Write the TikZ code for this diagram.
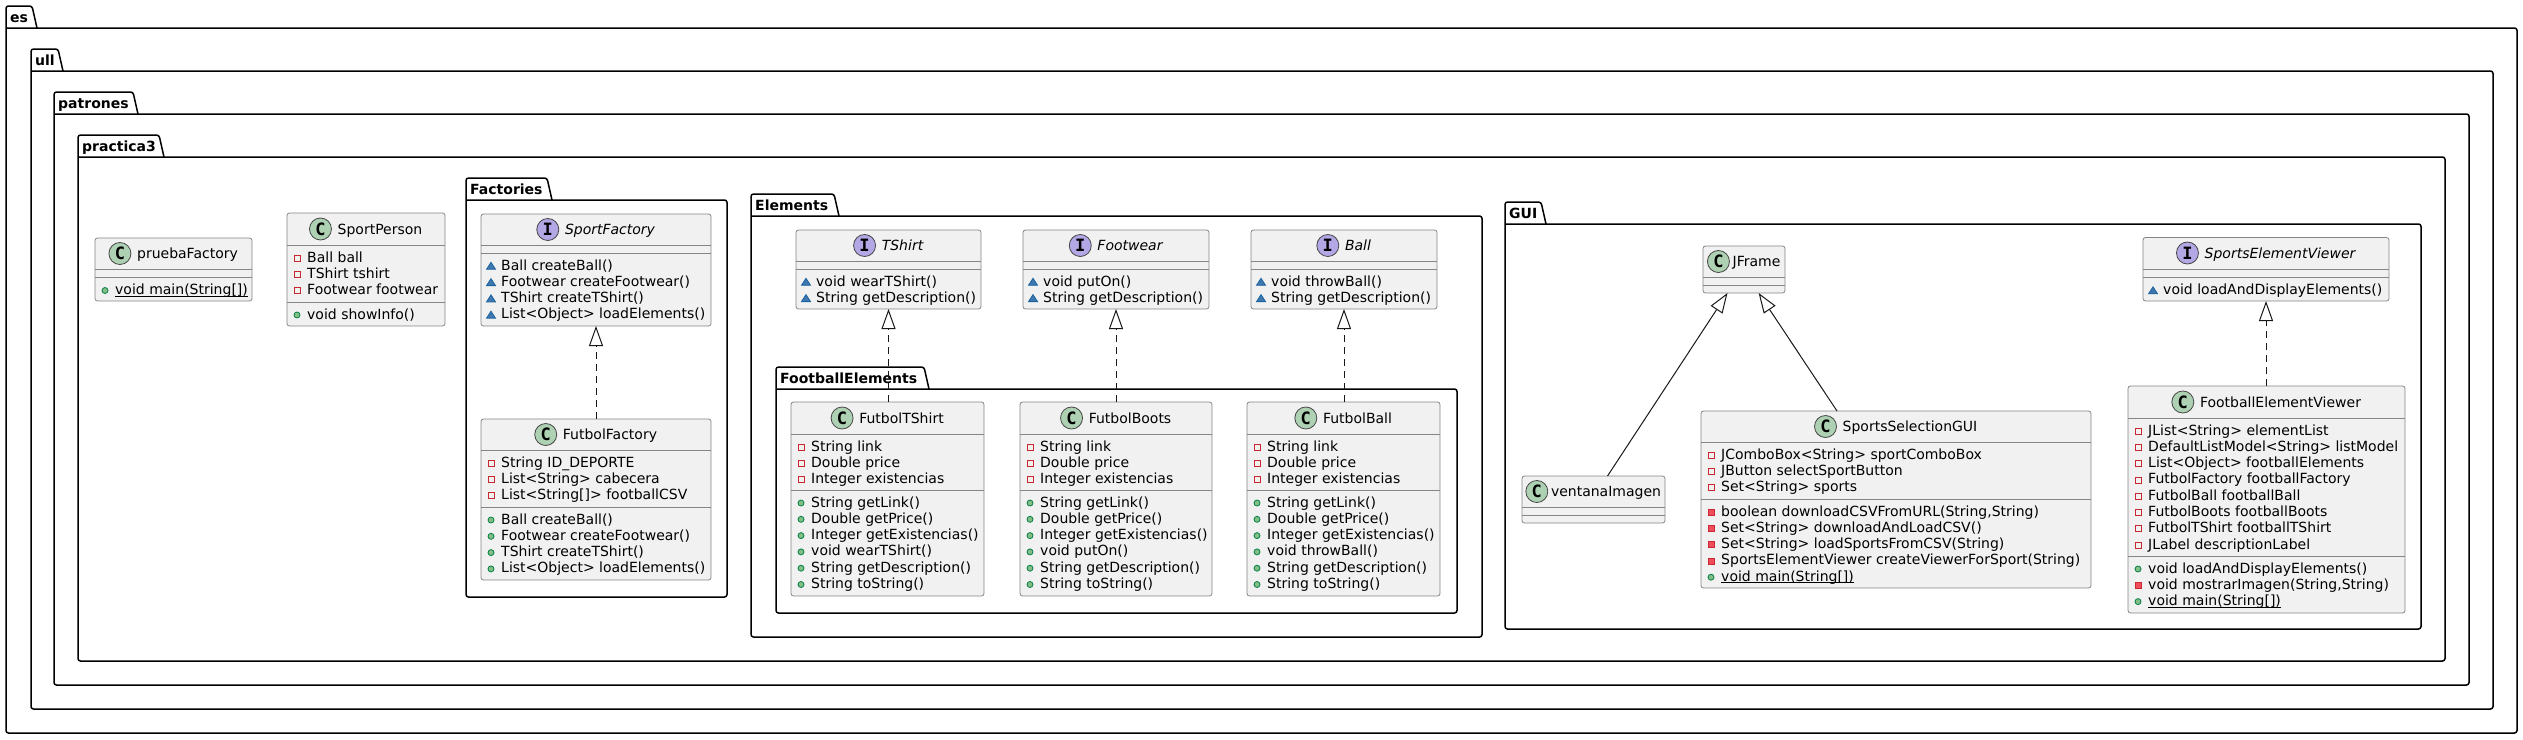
\documentclass[tikz,border=0pt]{standalone}
\usepackage{fontspec}
\setmainfont{DejaVu Sans}
\setmonofont{DejaVu Sans Mono}
\usetikzlibrary{arrows.meta}
\definecolor{clsfill}{HTML}{F1F1F1}
\definecolor{clsline}{HTML}{181818}
\definecolor{clsborder}{HTML}{858585}
\definecolor{cgreen}{HTML}{ADD1B2}
\definecolor{ipurple}{HTML}{B4A7E5}
\definecolor{privred}{HTML}{C82930}
\definecolor{privredfill}{HTML}{F24D5C}
\definecolor{pubgreen}{HTML}{038048}
\definecolor{pubgreenfill}{HTML}{84BE84}
\definecolor{pkgblue}{HTML}{1963A0}
\definecolor{pkgbluefill}{HTML}{4177AF}
\tikzset{
 classbox/.style={draw=clsborder, fill=clsfill, line width=0.8pt, rounded corners=2.5pt, inner sep=0pt, outer sep=0pt},
 sepline/.style={draw=clsborder, line width=0.8pt},
 headtext/.style={inner sep=0pt, font=\fontsize{14}{16}\selectfont},
 headcirc/.style={circle, draw=clsline!80, line width=0.8pt, minimum size=22pt, inner sep=0pt, font=\fontsize{17}{17}\selectfont\ttfamily\bfseries},
 memtext/.style={inner sep=0pt, font=\fontsize{14}{16}\selectfont},
 pkglabel/.style={inner sep=0pt, font=\fontsize{14}{16}\selectfont\bfseries},
 pkgline/.style={draw=black, line width=1.5pt, rounded corners=2.5pt},
 realize/.style={draw=clsline, line width=1pt, dash pattern=on 7pt off 5pt, -{Triangle[open,length=20pt,width=14pt]}},
 general/.style={draw=clsline, line width=1pt, -{Triangle[open,length=20pt,width=14pt]}},
}
\newcounter{nc}
\newcommand{\ulx}[1]{\setbox0\hbox{#1}\rlap{\rule[-1.8pt]{\wd0}{0.8pt}}\box0}
% icons
\newcommand{\iconpf}[2]{\draw[draw=privred,line width=0.8pt] ({#1-3},{#2-3}) rectangle ({#1+3},{#2+3});}
\newcommand{\iconpm}[2]{\filldraw[draw=privred,fill=privredfill,line width=0.8pt] ({#1-3},{#2-3}) rectangle ({#1+3},{#2+3});}
\newcommand{\iconpub}[2]{\filldraw[draw=pubgreen,fill=pubgreenfill,line width=0.8pt] ({#1},{#2}) circle (3);}
\newcommand{\iconpk}[2]{\filldraw[draw=pkgblue,fill=pkgbluefill,line width=0.8pt] ({#1-4.5},{#2+3.3}) -- ({#1+4.5},{#2+3.3}) -- ({#1},{#2-3.7}) -- cycle;}
% member line: icon, x1, baseline, text
\newcommand{\mline}[4]{\stepcounter{nc}\node[memtext,anchor=base west] (m\arabic{nc}) at ({#2+20},{#3}) {#4};#1{#2+10}{#3-4}}
% class box: name, x1, y1, x2, y2
\newcommand{\cbox}[5]{\node[classbox,anchor=north west,minimum width={#4-#2},minimum height={#5-#3}] (#1) at (#2,#3) {};}
\newcommand{\csep}[3]{\draw[sepline] (#1,#3) -- (#2,#3);}
% header: name, x1, x2, cy, letter, fill, text, gap
\newcommand{\chead}[8]{%
 \node[headtext,anchor=base] (#1-t) at ({(#2+#3)/2+(22+#8)/2},{#4+5}) {#7};
 \node[headcirc,fill=#6] (#1-c) at ([xshift={-(#8)-11},yshift=5]#1-t.base west) {#5};}
% package: name, x, top, tabline, right, bottom, tabright, label
\newcommand{\pkg}[8]{%
 \node[pkglabel,anchor=base west] (#1) at ({#2+4},{#3+16}) {#8};
 \draw[pkgline] (#7,#4) -- ({#7-5},#3) -- (#2,#3) -- (#2,#6) -- (#5,#6) -- (#5,#4) -- (#2,#4);}
\begin{document}
\begin{tikzpicture}[x=1pt,y=-1pt]
\useasboundingbox (0,0) rectangle (2523,739);
% packages
\pkg{es}{6}{6}{28}{2517}{733}{37}{es}
\pkg{ull}{31}{49}{71}{2493}{709}{63}{ull}
\pkg{patrones}{54}{92}{114}{2469}{685}{138}{patrones}
\pkg{practica3}{78}{135}{157}{2445}{661}{164}{practica3}
\pkg{factories}{466}{178}{200}{727}{597}{552}{Factories}
\pkg{elements}{751}{194}{216}{1482}{637}{839}{Elements}
\pkg{footballelements}{776}{367}{389}{1457}{613}{929}{FootballElements}
\pkg{gui}{1505}{202}{224}{2421}{629}{1546}{GUI}

% pruebaFactory
\cbox{prueba}{95}{238}{252}{301}
\chead{prueba}{95}{252}{253.5}{C}{cgreen}{pruebaFactory}{6}
\csep{95}{252}{269}\csep{95}{252}{277.5}
\mline{\iconpub}{95}{294.5}{\ulx{void main(String[])}}

% SportPerson
\cbox{sportperson}{287}{213}{445}{326}
\chead{sportperson}{287}{445}{229}{C}{cgreen}{SportPerson}{6}
\csep{287}{445}{245}\csep{287}{445}{302}
\mline{\iconpf}{287}{262}{Ball ball}
\mline{\iconpf}{287}{278.3}{TShirt tshirt}
\mline{\iconpf}{287}{294.6}{Footwear footwear}
\mline{\iconpub}{287}{319}{void showInfo()}

% SportFactory
\cbox{sportfactory}{481}{214}{711}{326}
\chead{sportfactory}{481}{711}{229.5}{I}{ipurple}{\itshape SportFactory}{6}
\csep{481}{711}{245}\csep{481}{711}{253}
\mline{\iconpk}{481}{270}{Ball createBall()}
\mline{\iconpk}{481}{286.3}{Footwear createFootwear()}
\mline{\iconpk}{481}{302.6}{TShirt createTShirt()}
\mline{\iconpk}{481}{318.9}{List<Object> loadElements()}

% FutbolFactory
\cbox{futbolfactory}{481}{419}{711}{580}
\chead{futbolfactory}{481}{711}{434.5}{C}{cgreen}{FutbolFactory}{6}
\csep{481}{711}{450}\csep{481}{711}{507}
\mline{\iconpf}{481}{467}{String ID\_DEPORTE}
\mline{\iconpf}{481}{483.3}{List<String> cabecera}
\mline{\iconpf}{481}{499.6}{List<String[]> footballCSV}
\mline{\iconpub}{481}{524}{Ball createBall()}
\mline{\iconpub}{481}{540.3}{Footwear createFootwear()}
\mline{\iconpub}{481}{556.6}{TShirt createTShirt()}
\mline{\iconpub}{481}{572.9}{List<Object> loadElements()}

% TShirt
\cbox{tshirt}{796}{230}{981}{309}
\chead{tshirt}{796}{981}{245.5}{I}{ipurple}{\itshape TShirt}{6}
\csep{796}{981}{261}\csep{796}{981}{269}
\mline{\iconpk}{796}{286}{void wearTShirt()}
\mline{\iconpk}{796}{302.3}{String getDescription()}

% Footwear
\cbox{footwear}{1023}{230}{1209}{309}
\chead{footwear}{1023}{1209}{245.5}{I}{ipurple}{\itshape Footwear}{6}
\csep{1023}{1209}{261}\csep{1023}{1209}{269}
\mline{\iconpk}{1023}{286}{void putOn()}
\mline{\iconpk}{1023}{302.3}{String getDescription()}

% Ball
\cbox{ball}{1251}{230}{1437}{309}
\chead{ball}{1251}{1437}{245.5}{I}{ipurple}{\itshape Ball}{6}
\csep{1251}{1437}{261}\csep{1251}{1437}{269}
\mline{\iconpk}{1251}{286}{void throwBall()}
\mline{\iconpk}{1251}{302.3}{String getDescription()}

% FutbolTShirt
\cbox{futboltshirt}{791}{402}{984}{596}
\chead{futboltshirt}{791}{984}{418}{C}{cgreen}{FutbolTShirt}{6}
\csep{791}{984}{434}\csep{791}{984}{490}
\mline{\iconpf}{791}{451}{String link}
\mline{\iconpf}{791}{467.3}{Double price}
\mline{\iconpf}{791}{483.6}{Integer existencias}
\mline{\iconpub}{791}{507}{String getLink()}
\mline{\iconpub}{791}{523.3}{Double getPrice()}
\mline{\iconpub}{791}{539.6}{Integer getExistencias()}
\mline{\iconpub}{791}{555.9}{void wearTShirt()}
\mline{\iconpub}{791}{572.2}{String getDescription()}
\mline{\iconpub}{791}{588.5}{String toString()}

% FutbolBoots
\cbox{futbolboots}{1020}{402}{1212}{596}
\chead{futbolboots}{1020}{1212}{418}{C}{cgreen}{FutbolBoots}{6}
\csep{1020}{1212}{434}\csep{1020}{1212}{490}
\mline{\iconpf}{1020}{451}{String link}
\mline{\iconpf}{1020}{467.3}{Double price}
\mline{\iconpf}{1020}{483.6}{Integer existencias}
\mline{\iconpub}{1020}{507}{String getLink()}
\mline{\iconpub}{1020}{523.3}{Double getPrice()}
\mline{\iconpub}{1020}{539.6}{Integer getExistencias()}
\mline{\iconpub}{1020}{555.9}{void putOn()}
\mline{\iconpub}{1020}{572.2}{String getDescription()}
\mline{\iconpub}{1020}{588.5}{String toString()}

% FutbolBall
\cbox{futbolball}{1247}{402}{1440}{596}
\chead{futbolball}{1247}{1440}{418}{C}{cgreen}{FutbolBall}{6}
\csep{1247}{1440}{434}\csep{1247}{1440}{490}
\mline{\iconpf}{1247}{451}{String link}
\mline{\iconpf}{1247}{467.3}{Double price}
\mline{\iconpf}{1247}{483.6}{Integer existencias}
\mline{\iconpub}{1247}{507}{String getLink()}
\mline{\iconpub}{1247}{523.3}{Double getPrice()}
\mline{\iconpub}{1247}{539.6}{Integer getExistencias()}
\mline{\iconpub}{1247}{555.9}{void throwBall()}
\mline{\iconpub}{1247}{572.2}{String getDescription()}
\mline{\iconpub}{1247}{588.5}{String toString()}

% JFrame
\cbox{jframe}{1703}{246}{1785}{293}
\chead{jframe}{1703}{1785}{261.5}{C}{cgreen}{JFrame}{3}
\csep{1703}{1785}{277}\csep{1703}{1785}{285}

% ventanaImagen
\cbox{ventana}{1522}{476}{1665}{523}
\chead{ventana}{1522}{1665}{491.5}{C}{cgreen}{ventanaImagen}{3}
\csep{1522}{1665}{507}\csep{1522}{1665}{515}

% SportsSelectionGUI
\cbox{ssgui}{1701}{411}{2091}{588}
\chead{ssgui}{1701}{2091}{426.5}{C}{cgreen}{SportsSelectionGUI}{6}
\csep{1701}{2091}{442}\csep{1701}{2091}{499}
\mline{\iconpf}{1701}{459}{JComboBox<String> sportComboBox}
\mline{\iconpf}{1701}{475.3}{JButton selectSportButton}
\mline{\iconpf}{1701}{491.6}{Set<String> sports}
\mline{\iconpm}{1701}{516}{boolean downloadCSVFromURL(String,String)}
\mline{\iconpm}{1701}{532.3}{Set<String> downloadAndLoadCSV()}
\mline{\iconpm}{1701}{548.6}{Set<String> loadSportsFromCSV(String)}
\mline{\iconpm}{1701}{564.9}{SportsElementViewer createViewerForSport(String)}
\mline{\iconpub}{1701}{581.2}{\ulx{void main(String[])}}

% SportsElementViewer
\cbox{sev}{2143}{237.5}{2389}{301}
\chead{sev}{2143}{2389}{253}{I}{ipurple}{\itshape SportsElementViewer}{6}
\csep{2143}{2389}{269}\csep{2143}{2389}{277.5}
\mline{\iconpk}{2143}{294.5}{void loadAndDisplayElements()}

% FootballElementViewer
\cbox{fev}{2128}{386}{2405}{613}
\chead{fev}{2128}{2405}{402}{C}{cgreen}{FootballElementViewer}{6}
\csep{2128}{2405}{418}\csep{2128}{2405}{556}
\mline{\iconpf}{2128}{435}{JList<String> elementList}
\mline{\iconpf}{2128}{451.3}{DefaultListModel<String> listModel}
\mline{\iconpf}{2128}{467.6}{List<Object> footballElements}
\mline{\iconpf}{2128}{483.9}{FutbolFactory footballFactory}
\mline{\iconpf}{2128}{500.2}{FutbolBall footballBall}
\mline{\iconpf}{2128}{516.5}{FutbolBoots footballBoots}
\mline{\iconpf}{2128}{532.8}{FutbolTShirt footballTShirt}
\mline{\iconpf}{2128}{549.1}{JLabel descriptionLabel}
\mline{\iconpub}{2128}{573}{void loadAndDisplayElements()}
\mline{\iconpm}{2128}{589.3}{void mostrarImagen(String,String)}
\mline{\iconpub}{2128}{605.6}{\ulx{void main(String[])}}

% connectors
\draw[realize] (futbolfactory.north) -- (sportfactory.south);
\draw[realize] (futboltshirt.north -| tshirt.south) -- (tshirt.south);
\draw[realize] (futbolboots.north -| footwear.south) -- (footwear.south);
\draw[realize] (futbolball.north -| ball.south) -- (ball.south);
\draw[realize] (fev.north -| sev.south) -- (sev.south);
\draw[general] ([xshift=14pt]ventana.north) -- ([xshift=-16.5pt]jframe.south);
\draw[general] ([xshift=-59pt]ssgui.north) -- ([xshift=14.6pt]jframe.south);
\end{tikzpicture}
\end{document}
